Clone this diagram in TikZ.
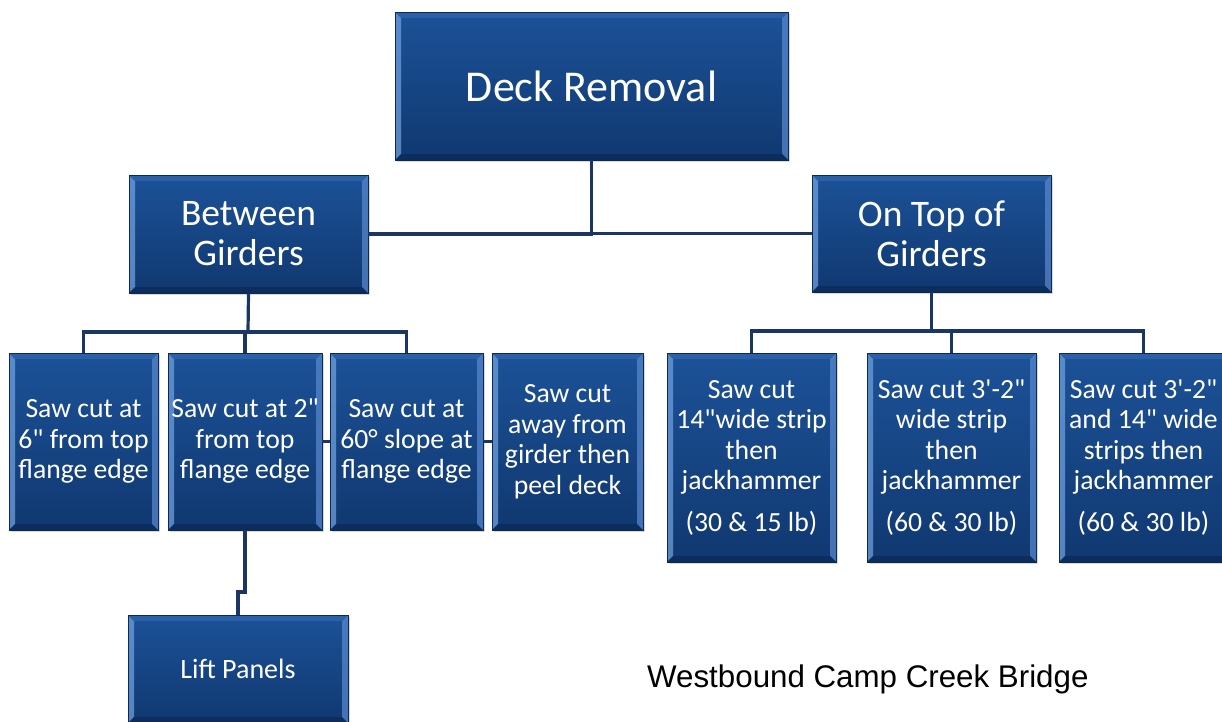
\documentclass[tikz,border=0pt]{standalone}
\usepackage{fontspec}
\setmainfont{Carlito}
\newfontfamily\capfont{Liberation Sans}
\usetikzlibrary{shadows}
\definecolor{boxtop}{RGB}{28,82,152}
\definecolor{boxbot}{RGB}{16,56,112}
\definecolor{boxedge}{RGB}{12,40,85}
\definecolor{bevL}{RGB}{110,158,220}
\definecolor{bevT}{RGB}{45,100,172}
\definecolor{bevR}{RGB}{90,138,208}
\definecolor{bevB}{RGB}{12,42,88}
\definecolor{connc}{RGB}{28,54,100}
\newcommand\qq{\textquotedbl}
\newcommand\qs{\textquotesingle}
\newcommand\bevelpic{%
  \fill[bevL,opacity=0.75] (path picture bounding box.south west) -- (path picture bounding box.north west)
    -- ([shift={(6pt,-6pt)}]path picture bounding box.north west) -- ([shift={(6pt,6pt)}]path picture bounding box.south west) -- cycle;
  \fill[bevR,opacity=0.7] (path picture bounding box.south east) -- (path picture bounding box.north east)
    -- ([shift={(-6pt,-6pt)}]path picture bounding box.north east) -- ([shift={(-6pt,6pt)}]path picture bounding box.south east) -- cycle;
  \fill[bevT,opacity=0.8] (path picture bounding box.north west) -- (path picture bounding box.north east)
    -- ([shift={(-6pt,-6pt)}]path picture bounding box.north east) -- ([shift={(6pt,-6pt)}]path picture bounding box.north west) -- cycle;
  \fill[bevB,opacity=0.8] (path picture bounding box.south west) -- (path picture bounding box.south east)
    -- ([shift={(-6pt,6pt)}]path picture bounding box.south east) -- ([shift={(6pt,6pt)}]path picture bounding box.south west) -- cycle;
}
\tikzset{
  pbox/.style={rectangle, draw=boxedge, line width=0.8pt, top color=boxtop, bottom color=boxbot,
    text=white, align=center, inner sep=0pt, path picture={\bevelpic},
    drop shadow={shadow xshift=2pt, shadow yshift=-2pt, opacity=0.3}},
  big/.style={font=\fontsize{44}{48}\selectfont},
  mid/.style={font=\fontsize{37.5}{40}\selectfont},
  small/.style={font=\fontsize{27.7}{30.5}\selectfont},
  conn/.style={draw=connc, line width=3.2pt},
}
\begin{document}
\begin{tikzpicture}[x=1pt,y=-1pt]
\useasboundingbox (0,0) rectangle (1222,721);
\coordinate (bgj) at (248,332);
\coordinate (otj) at (931.5,331);
\coordinate (lpj) at (241,592);
\node[pbox, big, minimum width=393pt, minimum height=148pt] (dr) at (591.5,86) {Deck Removal};
\node[pbox, mid, minimum width=239pt, minimum height=118pt] (bg) at (248.5,234) {Between\\Girders};
\node[pbox, mid, minimum width=239pt, minimum height=117pt] (ot) at (931.5,233.5) {On Top of\\Girders};
\draw[conn] (dr.south) |- (bg.east);
\draw[conn] (dr.south) |- (ot.west);
\node[pbox, small, minimum width=149pt, minimum height=177pt] (b1) at (83.5,441.5) {Saw cut at\\6\qq{} from top\\flange edge};
\node[pbox, small, minimum width=154pt, minimum height=177pt] (b2) at (245,441.5) {Saw cut at 2\qq\\from top\\flange edge};
\node[pbox, small, minimum width=153pt, minimum height=177pt] (b3) at (406.5,441.5) {Saw cut at\\60° slope at\\flange edge};
\node[pbox, small, minimum width=151pt, minimum height=177pt] (b4) at (567.5,441.5) {Saw cut\\away from\\girder then\\peel deck};
\node[pbox, small, minimum width=169pt, minimum height=209pt] (b5) at (751.5,457.5) {Saw cut\\14\qq{}wide strip\\then\\jackhammer\\[11pt](30 \& 15 lb)};
\node[pbox, small, minimum width=169pt, minimum height=209pt] (b6) at (951.5,457.5) {Saw cut 3\qs-2\qq\\wide strip\\then\\jackhammer\\[11pt](60 \& 30 lb)};
\node[pbox, small, minimum width=169pt, minimum height=209pt] (b7) at (1143.5,457.5) {Saw cut 3\qs-2\qq\\and 14\qq{} wide\\strips then\\jackhammer\\[11pt](60 \& 30 lb)};
\node[pbox, small, font=\fontsize{28}{30.5}\selectfont, minimum width=220pt, minimum height=108pt] (lp) at (238,669) {Lift Panels};
\draw[conn] (bg.south) -- (bgj);
\draw[conn] (b1.north) |- (bgj) -| (b3.north);
\draw[conn] (b2.north) -- (b2.north |- bgj);
\draw[conn] (b2.east) -- (b3.west);
\draw[conn] (b3.east) -- (b4.west);
\draw[conn] (ot.south) -- (otj);
\draw[conn] (b5.north) |- (otj) -| (b7.north);
\draw[conn] (b6.north) -- (b6.north |- otj);
\draw[conn] (b2.south) |- (lpj) -| (lp.north);
\node[font=\capfont\fontsize{31.3}{36}\selectfont, anchor=base west, inner sep=0pt] (cap) at (647,687) {Westbound Camp Creek Bridge};
\end{tikzpicture}
\end{document}
